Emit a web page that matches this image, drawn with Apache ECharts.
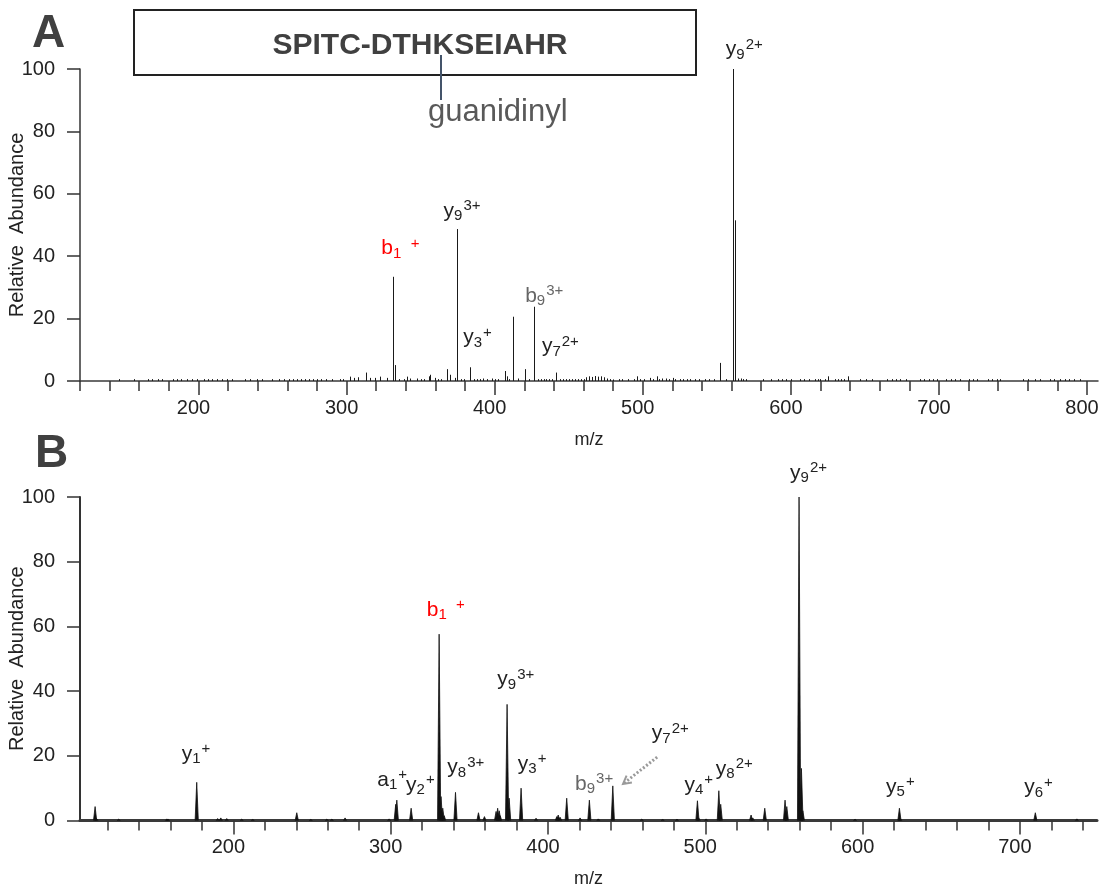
<!DOCTYPE html>
<html>
<head>
<meta charset="utf-8">
<style>
  html, body { margin: 0; padding: 0; background: #fff; }
  #chart { width: 1100px; height: 894px; }
</style>
<script src="https://cdn.jsdelivr.net/npm/echarts@6/dist/echarts.min.js"></script>
</head>
<body>
<div id="chart"></div>
<script>
// ---- panel A : centroid spectrum [m/z, relative abundance] ----
const peaksA = [
  [302.6, 1.4], [304.8, 1.0], [307.5, 1.2], [313.4, 2.7], [316, 1.0], [319.4, 1.0],
  [322.8, 1.4], [327.3, 1.0], [331.4, 33.4], [332.7, 5.1], [340.8, 1.4], [343, 0.8],
  [347.6, 0.8], [355.4, 1.5], [356.2, 2.0], [360, 1.0], [367.8, 3.8], [369.6, 2.0],
  [373.2, 1.0], [374.5, 48.7], [383.5, 4.4], [392, 0.8], [398, 0.8], [406.7, 3.2],
  [408, 1.5], [412.1, 20.6], [416, 0.8], [420.4, 3.8], [426.7, 23.8], [441.6, 2.7],
  [462, 1.2], [464, 1.5], [466, 1.3], [468, 1.6], [470, 1.4], [472, 1.5], [474, 1.2],
  [475.8, 0.8], [496, 1.5], [505, 1.0], [509.5, 1.5], [513, 0.8], [516, 0.8],
  [520.3, 1.0], [552.2, 5.8], [560.8, 100], [562.5, 51.5], [564, 0.8], [566, 0.8],
  [625.4, 1.5], [638.8, 1.5]
]
// tiny baseline signals
const noiseA = [
  [146.2, 0.6], [156.4, 0.6], [165.8, 0.6], [168.8, 0.6], [172.5, 0.6], [175.5, 0.6],
  [182.9, 0.6], [185.2, 0.6], [188.5, 0.6], [192.4, 0.6], [195.3, 0.6], [198.7, 0.6],
  [203.6, 0.6], [206.3, 0.6], [209.2, 0.6], [212.6, 0.6], [216, 0.6], [219.4, 0.6],
  [222.7, 0.6], [231.7, 0.6], [235.1, 0.6], [239.6, 0.6], [243, 0.6], [249.7, 0.6],
  [254.2, 0.6], [257.6, 0.6], [260.9, 0.6], [263.9, 0.6], [266.6, 0.6], [269.5, 0.6],
  [271.7, 0.6], [274.4, 0.6], [277.4, 0.6], [280.1, 0.6], [282.8, 0.6], [286.4, 0.6],
  [290.2, 0.6], [295.3, 0.6], [297.6, 0.6], [335.2, 0.6], [338.5, 0.6], [350, 0.6],
  [352, 0.6], [362, 0.6], [364, 0.6], [377, 0.6], [379, 0.6], [386, 0.6], [388, 0.6],
  [390, 0.6], [395, 0.6], [400, 0.6], [402, 0.6], [410, 0.6], [423, 0.6], [429, 0.6],
  [431, 0.6], [433, 0.6], [435, 0.6], [437, 0.6], [439, 0.6], [444, 0.6], [446, 0.6],
  [448, 0.6], [450, 0.6], [452, 0.6], [454, 0.6], [456, 0.6], [458, 0.6], [460, 0.6],
  [478, 0.6], [480, 0.5], [484, 0.6], [486, 0.6], [490, 0.6], [494, 0.6], [498, 0.6],
  [501, 0.6], [507, 0.6], [511, 0.6], [518, 0.6], [522, 0.6], [525, 0.6], [527, 0.6],
  [530, 0.6], [532, 0.6], [535, 0.6], [538, 0.6], [542, 0.6], [545, 0.6], [548, 0.6],
  [556, 0.6], [568, 0.6], [570, 0.6], [581.5, 0.6], [586.4, 0.6], [591, 0.6], [594, 0.6],
  [597, 0.6], [600, 0.6], [606, 0.6], [609, 0.6], [612, 0.6], [616, 0.6], [618, 0.6],
  [620, 0.6], [623, 0.6], [630, 0.6], [632, 0.6], [634, 0.6], [636, 0.6], [647, 0.6],
  [651, 0.6], [655, 0.6], [665, 0.6], [668, 0.6], [671, 0.6], [674, 0.6], [678, 0.6],
  [687, 0.6], [690, 0.6], [693, 0.6], [696, 0.6], [699, 0.6], [705, 0.6], [708, 0.6],
  [711, 0.6], [714, 0.6], [720, 0.6], [723, 0.6], [726, 0.6], [733, 0.6], [736, 0.6],
  [739, 0.6], [741, 0.6], [757, 0.6], [760, 0.6], [765, 0.6], [768, 0.6], [775, 0.6],
  [778, 0.6], [782, 0.6], [785, 0.6], [788, 0.6], [791, 0.6], [795, 0.6]
]

// ---- panel B : profile spectrum peaks [m/z, relative abundance] ----
const peaksB = [
  [112.1, 4.3], [113, 0.6], [127.1, 0.4], [157.7, 0.5], [158.5, 0.4], [176.7, 11.8],
  [190, 0.6], [192, 0.8], [195.8, 0.6], [205.3, 0.4], [212.3, 0.3], [240.3, 2.4],
  [249.2, 0.3], [259.4, 0.4], [262.6, 0.4], [271, 0.8], [299, 0.5], [303.2, 5.0],
  [303.9, 6.3], [313, 3.8], [330.8, 57.6], [332, 7.4], [333.1, 3.8], [334, 1.5],
  [341.2, 8.7], [355.8, 2.4], [359.6, 1.2], [367, 2.8], [368, 3.8], [369, 3.0],
  [369.6, 1.5], [374, 35.9], [375.3, 6.9], [382.9, 10], [392.4, 0.7], [405.6, 1.2],
  [406.5, 1.7], [407.7, 1.0], [411.9, 6.9], [420.4, 0.8], [426.3, 6.3], [432, 0.5],
  [441.2, 10.7], [459.6, 0.4], [472.9, 0.3], [482, 0.4], [495, 6.1], [495.8, 0.8],
  [500.5, 0.5], [508.6, 9.2], [509.8, 5.0], [529.1, 1.7], [530.2, 0.8], [537.8, 3.8],
  [550.7, 6.3], [551.8, 4.3], [559.6, 100], [561.1, 16.1], [562, 3], [595.2, 0.4],
  [623.4, 3.8], [624, 0.5], [709.8, 2.4], [736.2, 0.5]
]

// ion annotations: letter, subscript, superscript, anchor [m/z, abundance]
const ionsA = [
  ['b', '1', '  +', 323.5, 40.4],
  ['y', '9', '3+', 365.5, 52.5],
  ['y', '3', '+', 378.8, 11.9],
  ['b', '9', '3+', 420.6, 25.1],
  ['y', '7', '2+', 431.9, 9.0],
  ['y', '9', '2+', 556.1, 104.2]
]
const ionsB = [
  ['y', '1', '+', 167.2, 18.7],
  ['a', '1', '+', 291.5, 10.4],
  ['y', '2', '+', 309.8, 9.1],
  ['b', '1', '  +', 322.9, 63.0],
  ['y', '8', '3+', 336.0, 14.4],
  ['y', '9', '3+', 367.8, 41.6],
  ['y', '3', '+', 380.8, 15.6],
  ['b', '9', '3+', 417.2, 9.4],
  ['y', '7', '2+', 466.0, 24.9],
  ['y', '4', '+', 486.7, 8.9],
  ['y', '8', '2+', 506.7, 13.8],
  ['y', '9', '2+', 553.9, 105.3],
  ['y', '5', '+', 614.9, 8.4],
  ['y', '6', '+', 702.7, 8.2]
]
// dotted arrow from y7(2+) label to its peak: [m/z from, ab from, m/z to, ab to]
const arrowB = [[469.4, 19.6, 447.7, 11.3]]

// axis ticks
const labelTicksA = [200, 300, 400, 500, 600, 700, 800]
const minorTicksA = [120, 140, 160, 180, 200, 220, 240, 260, 280, 300, 320, 340, 360, 380, 400, 420, 440, 460, 480, 500, 520, 540, 560, 580, 600, 620, 640, 660, 680, 700, 720, 740, 760, 780, 800]
const labelTicksB = [200, 300, 400, 500, 600, 700]
const minorTicksB = [120, 140, 160, 180, 200, 220, 240, 260, 280, 300, 320, 340, 360, 380, 400, 420, 440, 460, 480, 500, 520, 540, 560, 580, 600, 620, 640, 660, 680, 700, 720, 740]

const FONT = '"Liberation Sans", Arial, Helvetica, sans-serif'
const AXIS = '#333'
const TEXT = '#222'

const ctx = document.createElement('canvas').getContext('2d')
function textWidth (s, size) {
  ctx.font = size + 'px ' + FONT
  return ctx.measureText(s).width
}

function ionColor (ion) {
  if (ion[0] === 'b' && ion[1] === '1') return '#ff0000'
  if (ion[0] === 'b' && ion[1] === '9') return '#666666'
  return TEXT
}

function stickSeries (axisIdx, data) {
  return {
    type: 'custom',
    xAxisIndex: axisIdx * 2,
    yAxisIndex: axisIdx,
    silent: true,
    clip: true,
    data: data,
    renderItem: function (params, api) {
      const top = api.coord([api.value(0), api.value(1)])
      const base = api.coord([api.value(0), 0])
      const x = Math.round(top[0]) + 0.5
      return {
        type: 'line',
        shape: { x1: x, y1: base[1], x2: x, y2: Math.min(top[1], base[1] - 1.5) },
        style: { stroke: '#1a1a1a', lineWidth: 1 }
      }
    }
  }
}

function profileSeries (axisIdx, data) {
  return {
    type: 'custom',
    xAxisIndex: axisIdx * 2,
    yAxisIndex: axisIdx,
    silent: true,
    clip: true,
    data: data,
    renderItem: function (params, api) {
      const top = api.coord([api.value(0), api.value(1)])
      const base = api.coord([api.value(0), 0])
      return {
        type: 'polygon',
        shape: { points: [[top[0] - 1.6, base[1]], [top[0], top[1]], [top[0] + 1.6, base[1]]] },
        style: { fill: '#111', stroke: '#111', lineWidth: 0.8 }
      }
    }
  }
}

function ionSeries (axisIdx, ions) {
  return {
    type: 'custom',
    xAxisIndex: axisIdx * 2,
    yAxisIndex: axisIdx,
    silent: true,
    clip: false,
    z: 5,
    data: ions.map(d => [d[3], d[4]]),
    renderItem: function (params, api) {
      const d = ions[params.dataIndex]
      const p = api.coord([api.value(0), api.value(1)])
      const color = ionColor(d)
      const w1 = textWidth(d[0], 21)
      const w2 = textWidth(d[1], 15)
      const t = (s, x, y, size) => ({
        type: 'text',
        x: x,
        y: y,
        style: { text: s, fontSize: size, fontFamily: FONT, fill: color, verticalAlign: 'middle', align: 'left' }
      })
      return {
        type: 'group',
        children: [
          t(d[0], p[0], p[1] - 6.3, 21),
          t(d[1], p[0] + w1, p[1] + 3 - 4.5, 15),
          t(d[2], p[0] + w1 + w2 + 1, p[1] - 7 - 4.5, 15)
        ]
      }
    }
  }
}

function xAxes (grid, min, max, labels, minor) {
  return [
    {
      gridIndex: grid,
      type: 'value',
      position: 'bottom',
      min: min,
      max: max,
      name: 'm/z',
      nameLocation: 'middle',
      nameGap: 50,
      nameTextStyle: { fontSize: 18, color: TEXT, fontFamily: FONT },
      axisLine: { onZero: false, lineStyle: { color: '#3a3a3a', width: grid === 0 ? 1.5 : 3 } },
      axisTick: { customValues: labels, length: 14, lineStyle: { color: AXIS, width: 1.5 } },
      axisLabel: { customValues: labels, fontSize: 20, color: TEXT, fontFamily: FONT, margin: 17, padding: [0, 10, 0, 0] },
      splitLine: { show: false }
    },
    {
      gridIndex: grid,
      type: 'value',
      position: 'bottom',
      min: min,
      max: max,
      axisLine: { show: false, onZero: false },
      axisTick: { customValues: minor, length: 10, lineStyle: { color: AXIS, width: 1.5 } },
      axisLabel: { show: false },
      splitLine: { show: false }
    }
  ]
}

function yAxis (grid) {
  return {
    gridIndex: grid,
    type: 'value',
    min: 0,
    max: 100,
    interval: 20,
    name: 'Relative  Abundance',
    nameLocation: 'middle',
    nameGap: 53,
    nameMoveOverlap: false,
    nameTextStyle: { fontSize: 20, color: TEXT, fontFamily: FONT },
    axisLine: { show: true, lineStyle: { color: AXIS, width: grid === 0 ? 1.5 : 2 } },
    axisTick: { show: true, length: 13, lineStyle: { color: AXIS, width: 1.5 } },
    axisLabel: { fontSize: 20, color: TEXT, fontFamily: FONT, margin: 25 },
    splitLine: { show: false }
  }
}

const chart = echarts.init(document.getElementById('chart'), null, { renderer: 'canvas' })

const option = {
  backgroundColor: '#fff',
  animation: false,
  grid: [
    { left: 80, top: 69, width: 1018, height: 312, outerBoundsMode: 'none', containLabel: false },
    { left: 80, top: 497, width: 1017, height: 323.5, outerBoundsMode: 'none', containLabel: false }
  ],
  xAxis: [].concat(xAxes(0, 120, 807.4, labelTicksA, minorTicksA), xAxes(1, 102.5, 749, labelTicksB, minorTicksB)),
  yAxis: [yAxis(0), yAxis(1)],
  graphic: [
    { type: 'rect', shape: { x: 134, y: 10, width: 562, height: 65 }, style: { fill: 'none', stroke: '#222', lineWidth: 2 } },
    { type: 'text', x: 420, y: 46, style: { text: 'SPITC-DTHKSEIAHR', fontSize: 30, fontWeight: 'bold', fontFamily: FONT, fill: '#404040', align: 'center', verticalAlign: 'middle' } },
    { type: 'line', shape: { x1: 441, y1: 55, x2: 441, y2: 100 }, style: { stroke: '#44546a', lineWidth: 2 } },
    { type: 'text', x: 428, y: 112, style: { text: 'guanidinyl', fontSize: 31, fontFamily: FONT, fill: '#595959', align: 'left', verticalAlign: 'middle' } },
    { type: 'text', x: 32, y: 34, style: { text: 'A', fontSize: 46, fontWeight: 'bold', fontFamily: FONT, fill: '#404040', align: 'left', verticalAlign: 'middle' } },
    { type: 'text', x: 35, y: 454, style: { text: 'B', fontSize: 46, fontWeight: 'bold', fontFamily: FONT, fill: '#404040', align: 'left', verticalAlign: 'middle' } }
  ],
  series: [
    stickSeries(0, noiseA),
    stickSeries(0, peaksA),
    ionSeries(0, ionsA),
    profileSeries(1, peaksB),
    ionSeries(1, ionsB),
    {
      type: 'custom',
      xAxisIndex: 2,
      yAxisIndex: 1,
      silent: true,
      clip: false,
      encode: { x: [0, 2], y: [1, 3] },
      data: arrowB,
      renderItem: function (params, api) {
        const a = api.coord([api.value(0), api.value(1)])
        const b = api.coord([api.value(2), api.value(3)])
        const ang = Math.atan2(b[1] - a[1], b[0] - a[0])
        const h = 9
        const l = [b[0] - h * Math.cos(ang - 0.5), b[1] - h * Math.sin(ang - 0.5)]
        const r = [b[0] - h * Math.cos(ang + 0.5), b[1] - h * Math.sin(ang + 0.5)]
        return {
          type: 'group',
          children: [
            { type: 'line', shape: { x1: a[0], y1: a[1], x2: b[0], y2: b[1] }, style: { stroke: '#9a9a9a', lineWidth: 3, lineDash: [2, 2] } },
            { type: 'polyline', shape: { points: [l, b, r] }, style: { stroke: '#9a9a9a', lineWidth: 2, fill: 'none' } }
          ]
        }
      }
    }
  ]
}

chart.setOption(option)

window.addEventListener('resize', () => {
  chart.resize()
})
</script>
</body>
</html>
